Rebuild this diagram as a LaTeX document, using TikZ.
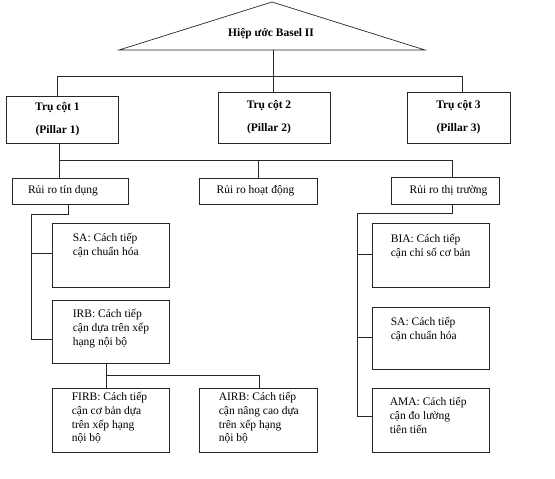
\documentclass[tikz,border=0pt]{standalone}
\usepackage{fontspec}
\setmainfont{Liberation Serif}
\begin{document}
\begin{tikzpicture}[x=1pt,y=-1pt,
  line/.style={draw=black!85, line width=0.7pt},
  box/.style={line, rectangle, inner sep=0pt},
  pillar/.style={box, font=\fontsize{11.5}{23}\selectfont\bfseries, align=center},
  risk/.style={box, font=\fontsize{11.5}{13.8}\selectfont},
  txt/.style={inner sep=0pt, anchor=north west, align=left, font=\fontsize{11.5}{13.8}\selectfont}
]
\useasboundingbox[fill=white] (0,0) rectangle (555,479);

% triangle
\coordinate (apex) at (272,2);
\coordinate (triL) at (119,50);
\coordinate (triR) at (425,50);
\coordinate (trib) at (273,50);
\draw[line] (triL) -- (apex) -- (triR) -- cycle;
\node[font=\fontsize{11.5}{13.8}\selectfont\bfseries] (basel) at (271,34) {Hiệp ước Basel II};

% pillars
\node[pillar, minimum width=112pt, minimum height=47pt] (p1) at (62,119.5) {Trụ cột 1\hspace*{9pt}\\(Pillar 1)\hspace*{9pt}};
\node[pillar, minimum width=112pt, minimum height=51pt] (p2) at (274,117.5) {Trụ cột 2\hspace*{10pt}\\(Pillar 2)\hspace*{10pt}};
\node[pillar, minimum width=103pt, minimum height=51pt] (p3) at (458.5,117.5) {Trụ cột 3\\(Pillar 3)};

% risks
\node[risk, minimum width=116pt, minimum height=26pt] (rtd) at (70,191) {Rủi ro tín dụng\hspace*{14pt}};
\node[risk, minimum width=118pt, minimum height=26pt] (rhd) at (258,191) {Rủi ro hoạt động\hspace*{5pt}};
\node[risk, minimum width=108pt, minimum height=27pt] (rtt) at (445,190.5) {\hspace*{7pt}Rủi ro thị trường};

% lower boxes
\node[box, minimum width=117pt, minimum height=64pt] (sa1) at (110.5,255) {};
\node[box, minimum width=117pt, minimum height=63pt] (irb) at (110.5,331.5) {};
\node[box, minimum width=117pt, minimum height=64pt] (firb) at (110.5,420) {};
\node[box, minimum width=118pt, minimum height=64pt] (airb) at (258,420) {};
\node[box, minimum width=117pt, minimum height=64pt] (bia) at (430.5,255) {};
\node[box, minimum width=117pt, minimum height=62pt] (sa2) at (430.5,338) {};
\node[box, minimum width=117pt, minimum height=64pt] (ama) at (430.5,420) {};

\node[txt] (sa1t) at ([shift={(21,9)}]sa1.north west) {\strut SA: Cách tiếp\\cận chuẩn hóa};
\node[txt] (irbt) at ([shift={(21,8)}]irb.north west) {\strut IRB: Cách tiếp\\cận dựa trên xếp\\hạng nội bộ};
\node[txt] (firbt) at ([shift={(20,3)}]firb.north west) {\strut FIRB: Cách tiếp\\cận cơ bản dựa\\trên xếp hạng\\nội bộ};
\node[txt] (airbt) at ([shift={(20,3)}]airb.north west) {\strut AIRB: Cách tiếp\\cận nâng cao dựa\\trên xếp hạng\\nội bộ};
\node[txt] (biat) at ([shift={(19,10)}]bia.north west) {\strut BIA: Cách tiếp\\cận chỉ số cơ bản};
\node[txt] (sa2t) at ([shift={(19,9)}]sa2.north west) {\strut SA: Cách tiếp\\cận chuẩn hóa};
\node[txt] (amat) at ([shift={(18,8)}]ama.north west) {\strut AMA: Cách tiếp\\cận đo lường\\tiên tiến};

% first bus
\coordinate (bus1L) at (57,76);
\coordinate (bus1R) at (462,76);
\draw[line] (trib) -- (trib |- bus1L);
\draw[line] (bus1L) -- (bus1R);
\draw[line] (bus1L) -- (bus1L |- p1.north);
\draw[line] (trib |- bus1L) -- (trib |- p2.north);
\draw[line] (bus1R) -- (bus1R |- p3.north);

% second bus
\coordinate (bus2L) at (59,160);
\coordinate (bus2M) at (258,160);
\coordinate (bus2R) at (452,160);
\draw[line] (bus2L |- p1.south) -- (bus2L) -- (bus2R);
\draw[line] (bus2L) -- (bus2L |- rtd.north);
\draw[line] (bus2M) -- (bus2M |- rhd.north);
\draw[line] (bus2R) -- (bus2R |- rtt.north);

% left branch
\coordinate (l1) at (68,214);
\coordinate (l2) at (31,214);
\coordinate (l3) at (31,339);
\coordinate (l4) at (31,253);
\draw[line] (l1 |- rtd.south) -- (l1) -- (l2) -- (l3) -- (l3 -| irb.west);
\draw[line] (l4) -- (l4 -| sa1.west);

% IRB children
\coordinate (i1) at (106,375);
\coordinate (i2) at (259,375);
\draw[line] (i1 |- irb.south) -- (i1) -- (i2) -- (i2 |- airb.north);
\draw[line] (i1) -- (i1 |- firb.north);

% right branch
\coordinate (r1) at (452,213);
\coordinate (r2) at (357,213);
\coordinate (r3) at (357,416);
\coordinate (r4) at (357,254);
\coordinate (r5) at (357,337);
\draw[line] (r1 |- rtt.south) -- (r1) -- (r2) -- (r3) -- (r3 -| ama.west);
\draw[line] (r4) -- (r4 -| bia.west);
\draw[line] (r5) -- (r5 -| sa2.west);
\end{tikzpicture}
\end{document}
